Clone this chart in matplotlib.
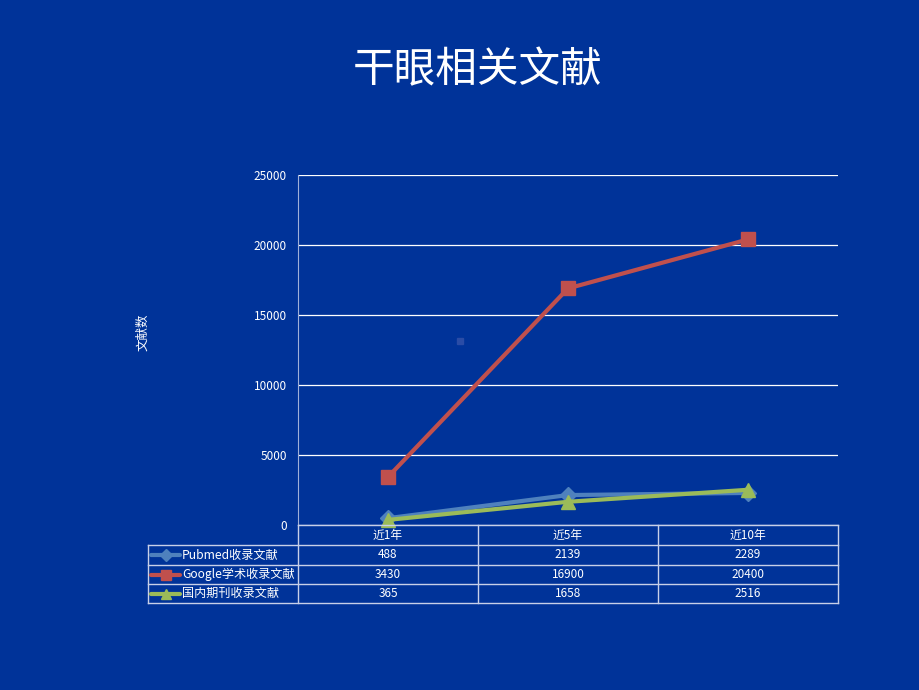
import matplotlib.pyplot as plt

plt.rcParams['font.family'] = ['Noto Sans CJK SC', 'DejaVu Sans']

categories = ['近1年', '近5年', '近10年']
series_names = ['Pubmed收录文献', 'Google学术收录文献', '国内期刊收录文献']
pubmed = [488, 2139, 2289]
google = [3430, 16900, 20400]
domestic = [365, 1658, 2516]
yticks = [0, 5000, 10000, 15000, 20000, 25000]

bg = '#003399'
colors = ['#4F81BD', '#C0504D', '#9BBB59']
markers = ['D', 's', '^']
all_series = [pubmed, google, domestic]

W, H = 920, 690
fig = plt.figure(figsize=(W / 100, H / 100), dpi=100, facecolor=bg)

def px(x0, y0, x1, y1):
    return [x0 / W, 1 - y1 / H, (x1 - x0) / W, (y1 - y0) / H]

ax = fig.add_axes(px(298, 175, 838, 525))
ax.set_facecolor(bg)
x = list(range(len(categories)))
for vals, c, m in zip(all_series, colors, markers):
    ax.plot(x, vals, color=c, lw=3, marker=m, ms=10 if m != 'D' else 8,
            markeredgecolor=c, zorder=3, clip_on=False)
ax.set_xlim(-0.5, len(categories) - 0.5)
ax.set_ylim(0, 25000)
ax.set_yticks(yticks)
ax.set_yticklabels([str(v) for v in yticks], color='white', fontsize=8.5)
ax.tick_params(axis='y', length=0, pad=8)
ax.set_xticks([])
ax.grid(axis='y', color='white', lw=0.9)
ax.set_axisbelow(True)
for s in ['top', 'right', 'bottom']:
    ax.spines[s].set_visible(False)
ax.spines['left'].set_color('#A0B0D8')

fig.text(143 / W, 1 - 332 / H, '文献数', rotation=90, color='white',
         fontsize=9, ha='center', va='center')
fig.text(478 / W, 1 - 71 / H, '干眼相关文献', color='white', fontsize=30,
         ha='center', va='center')
# small faint square artifact
fig.patches.append(plt.Rectangle((457 / W, 1 - 344 / H), 6 / W, 6 / H,
                                 transform=fig.transFigure, color='#2A4CA6'))

# data table below the plot
tab = fig.add_axes(px(140, 520, 845, 610))
tab.set_xlim(140, 845)
tab.set_ylim(610, 520)
tab.axis('off')
col_x = [148, 298, 478, 658, 838]
row_y = [525, 545, 565, 584, 603]
lc = '#C8D0E8'
tab.plot([298, 838], [525, 525], color=lc, lw=1)
for yy in row_y[1:]:
    tab.plot([148, 838], [yy, yy], color=lc, lw=1)
tab.plot([148, 148], [545, 603], color=lc, lw=1)
for xx in col_x[1:]:
    tab.plot([xx, xx], [525, 603], color=lc, lw=1)
for j, cat in enumerate(categories):
    xc = (col_x[j + 1] + col_x[j + 2]) / 2
    tab.text(xc, 535, cat, color='white', fontsize=8.5, ha='center', va='center')
for i, (name, vals, c, m) in enumerate(zip(series_names, all_series, colors, markers)):
    yc = (row_y[i + 1] + row_y[i + 2]) / 2
    tab.plot([151, 180], [yc, yc], color=c, lw=3, solid_capstyle='round')
    tab.plot([165.5], [yc], marker=m, color=c, ms=7 if m != 'D' else 6)
    tab.text(182, yc, name, color='white', fontsize=8.7, ha='left', va='center')
    for j, v in enumerate(vals):
        xc = (col_x[j + 1] + col_x[j + 2]) / 2
        tab.text(xc, yc, str(v), color='white', fontsize=8.5, ha='center', va='center')

fig.savefig('out.png', dpi=100, facecolor=bg)
